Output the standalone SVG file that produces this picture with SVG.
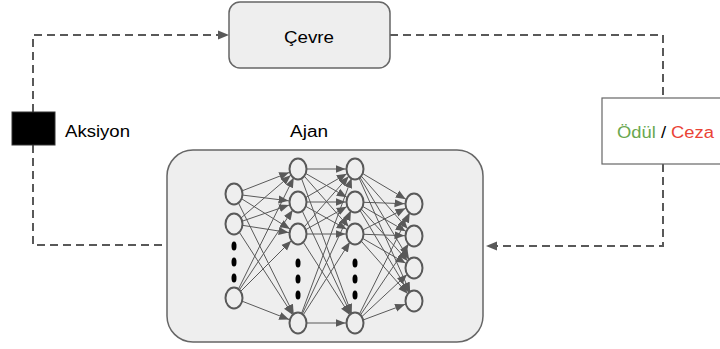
<svg xmlns="http://www.w3.org/2000/svg" width="720" height="349" viewBox="0 0 720 349">
  <style>
    .box { fill: #eeeeee; stroke: #666666; stroke-width: 1.5; }
    .lbl { font-family: "Liberation Sans", Arial, sans-serif; font-size: 16px; fill: #000000; }
    .flow { fill: none; stroke: #595959; stroke-width: 2; stroke-dasharray: 8 5; }
    .edge { stroke: #595959; stroke-width: 1; marker-end: url(#nnArrow); }
    .neuron { fill: #eeeeee; stroke: #595959; stroke-width: 2; }
    .dot { fill: #000000; }
  </style>
  <defs>
    <marker id="flowArrow" viewBox="0 -5 12 10" refX="11" refY="0" markerWidth="12" markerHeight="10" markerUnits="userSpaceOnUse" orient="auto">
      <path d="M0,-4.5 L11,0 L0,4.5 z" fill="#595959"/>
    </marker>
    <marker id="nnArrow" viewBox="0 -5 22 10" refX="19.5" refY="0" markerWidth="22" markerHeight="10" markerUnits="userSpaceOnUse" orient="auto">
      <path d="M0,-4 L10,0 L0,4 z" fill="#595959"/>
    </marker>
  </defs>

  <!-- feedback loop connectors -->
  <g id="connectors">
    <path class="flow" d="M33,112 V35 H229" marker-end="url(#flowArrow)"/>
    <path class="flow" d="M33,145 V245 H167"/>
    <path class="flow" d="M390,35 H663 V98"/>
    <path class="flow" d="M663,164 V246 H486" marker-end="url(#flowArrow)"/>
  </g>

  <g id="cevre">
    <rect class="box" x="229" y="2" width="161" height="66" rx="11"/>
    <text class="lbl" x="284" y="42.5" textLength="50" lengthAdjust="spacingAndGlyphs">Çevre</text>
  </g>

  <g id="aksiyon">
    <rect x="12" y="112" width="43" height="33" fill="#000000" stroke="#333333" stroke-width="1"/>
    <text class="lbl" x="65" y="137" textLength="65" lengthAdjust="spacingAndGlyphs">Aksiyon</text>
  </g>

  <g id="odul-ceza">
    <rect x="602" y="98" width="130" height="66" fill="#ffffff" stroke="#666666" stroke-width="1.2"/>
    <text class="lbl" x="617" y="138" textLength="97" lengthAdjust="spacingAndGlyphs"><tspan fill="#6aa84f">Ödül</tspan> / <tspan fill="#ea4335">Ceza</tspan></text>
  </g>

  <g id="ajan">
    <text class="lbl" x="290" y="137" textLength="38" lengthAdjust="spacingAndGlyphs">Ajan</text>
    <rect class="box" x="167" y="150" width="316" height="192" rx="26"/>

    <!-- layer 1 -> layer 2 -->
    <g id="edges-1-2">
      <line class="edge" x1="234" y1="194" x2="298" y2="169"/>
      <line class="edge" x1="234" y1="194" x2="298" y2="202"/>
      <line class="edge" x1="234" y1="194" x2="298" y2="234"/>
      <line class="edge" x1="234" y1="194" x2="298" y2="323"/>
      <line class="edge" x1="234" y1="224" x2="298" y2="169"/>
      <line class="edge" x1="234" y1="224" x2="298" y2="202"/>
      <line class="edge" x1="234" y1="224" x2="298" y2="234"/>
      <line class="edge" x1="234" y1="224" x2="298" y2="323"/>
      <line class="edge" x1="234" y1="298" x2="298" y2="169"/>
      <line class="edge" x1="234" y1="298" x2="298" y2="202"/>
      <line class="edge" x1="234" y1="298" x2="298" y2="234"/>
      <line class="edge" x1="234" y1="298" x2="298" y2="323"/>
    </g>
    <!-- layer 2 -> layer 3 -->
    <g id="edges-2-3">
      <line class="edge" x1="298" y1="169" x2="355" y2="169"/>
      <line class="edge" x1="298" y1="169" x2="355" y2="202"/>
      <line class="edge" x1="298" y1="169" x2="355" y2="234"/>
      <line class="edge" x1="298" y1="169" x2="355" y2="323"/>
      <line class="edge" x1="298" y1="202" x2="355" y2="169"/>
      <line class="edge" x1="298" y1="202" x2="355" y2="202"/>
      <line class="edge" x1="298" y1="202" x2="355" y2="234"/>
      <line class="edge" x1="298" y1="202" x2="355" y2="323"/>
      <line class="edge" x1="298" y1="234" x2="355" y2="169"/>
      <line class="edge" x1="298" y1="234" x2="355" y2="202"/>
      <line class="edge" x1="298" y1="234" x2="355" y2="234"/>
      <line class="edge" x1="298" y1="234" x2="355" y2="323"/>
      <line class="edge" x1="298" y1="323" x2="355" y2="169"/>
      <line class="edge" x1="298" y1="323" x2="355" y2="202"/>
      <line class="edge" x1="298" y1="323" x2="355" y2="234"/>
      <line class="edge" x1="298" y1="323" x2="355" y2="323"/>
    </g>
    <!-- layer 3 -> layer 4 -->
    <g id="edges-3-4">
      <line class="edge" x1="355" y1="169" x2="414" y2="204"/>
      <line class="edge" x1="355" y1="169" x2="414" y2="236"/>
      <line class="edge" x1="355" y1="169" x2="414" y2="268"/>
      <line class="edge" x1="355" y1="169" x2="414" y2="301"/>
      <line class="edge" x1="355" y1="202" x2="414" y2="204"/>
      <line class="edge" x1="355" y1="202" x2="414" y2="236"/>
      <line class="edge" x1="355" y1="202" x2="414" y2="268"/>
      <line class="edge" x1="355" y1="202" x2="414" y2="301"/>
      <line class="edge" x1="355" y1="234" x2="414" y2="204"/>
      <line class="edge" x1="355" y1="234" x2="414" y2="236"/>
      <line class="edge" x1="355" y1="234" x2="414" y2="268"/>
      <line class="edge" x1="355" y1="234" x2="414" y2="301"/>
      <line class="edge" x1="355" y1="323" x2="414" y2="204"/>
      <line class="edge" x1="355" y1="323" x2="414" y2="236"/>
      <line class="edge" x1="355" y1="323" x2="414" y2="268"/>
      <line class="edge" x1="355" y1="323" x2="414" y2="301"/>
    </g>

    <!-- neurons -->
    <g id="layer-1">
      <ellipse class="neuron" cx="234" cy="194" rx="8.5" ry="10.5"/>
      <ellipse class="neuron" cx="234" cy="224" rx="8.5" ry="10.5"/>
      <ellipse class="neuron" cx="234" cy="298" rx="8.5" ry="10.5"/>
      <ellipse class="dot" cx="234" cy="246" rx="2.5" ry="4.5"/>
      <ellipse class="dot" cx="234" cy="262" rx="2.5" ry="4.5"/>
      <ellipse class="dot" cx="234" cy="278" rx="2.5" ry="4.5"/>
    </g>
    <g id="layer-2">
      <ellipse class="neuron" cx="298" cy="169" rx="8.5" ry="10.5"/>
      <ellipse class="neuron" cx="298" cy="202" rx="8.5" ry="10.5"/>
      <ellipse class="neuron" cx="298" cy="234" rx="8.5" ry="10.5"/>
      <ellipse class="neuron" cx="298" cy="323" rx="8.5" ry="10.5"/>
      <ellipse class="dot" cx="298" cy="263" rx="2.5" ry="4.5"/>
      <ellipse class="dot" cx="298" cy="279" rx="2.5" ry="4.5"/>
      <ellipse class="dot" cx="298" cy="295" rx="2.5" ry="4.5"/>
    </g>
    <g id="layer-3">
      <ellipse class="neuron" cx="355" cy="169" rx="8.5" ry="10.5"/>
      <ellipse class="neuron" cx="355" cy="202" rx="8.5" ry="10.5"/>
      <ellipse class="neuron" cx="355" cy="234" rx="8.5" ry="10.5"/>
      <ellipse class="neuron" cx="355" cy="323" rx="8.5" ry="10.5"/>
      <ellipse class="dot" cx="355" cy="263" rx="2.5" ry="4.5"/>
      <ellipse class="dot" cx="355" cy="279" rx="2.5" ry="4.5"/>
      <ellipse class="dot" cx="355" cy="295" rx="2.5" ry="4.5"/>
    </g>
    <g id="layer-4">
      <ellipse class="neuron" cx="414" cy="204" rx="8.5" ry="10.5"/>
      <ellipse class="neuron" cx="414" cy="236" rx="8.5" ry="10.5"/>
      <ellipse class="neuron" cx="414" cy="268" rx="8.5" ry="10.5"/>
      <ellipse class="neuron" cx="414" cy="301" rx="8.5" ry="10.5"/>
    </g>
  </g>
</svg>
